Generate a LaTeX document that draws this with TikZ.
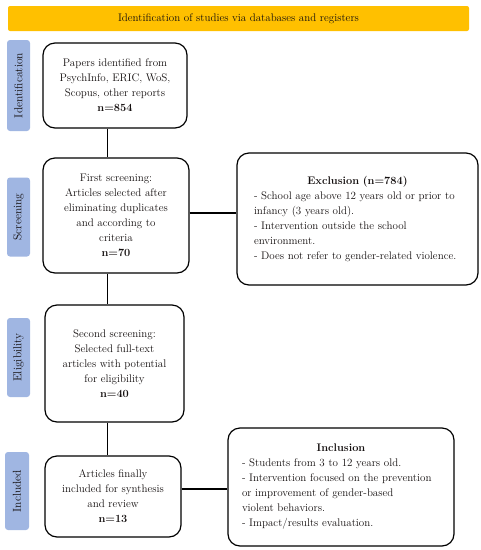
\documentclass[tikz,border=0pt]{standalone}
\usetikzlibrary{positioning}
\definecolor{bannerorange}{RGB}{255,192,0}
\definecolor{sideblue}{RGB}{160,182,226}
\definecolor{txt}{RGB}{20,15,15}
\begin{document}
\begin{tikzpicture}[x=1pt,y=-1pt,
  flowbox/.style={draw=black, line width=1.2pt, rounded corners=12pt, align=center, text=txt, inner sep=2pt, font=\fontsize{11}{15}\selectfont},
  sidebox/.style={fill=sideblue, rounded corners=3pt, text=txt, font=\fontsize{11.5}{12}\selectfont, rotate=90, inner sep=0pt},
  conn/.style={line width=1.1pt}
]
\useasboundingbox (0,0) rectangle (481,550);
% banner
\node[fill=bannerorange, rounded corners=2pt, minimum width=461pt, minimum height=25pt, inner sep=0pt, text=txt, font=\fontsize{11}{12}\selectfont] (banner) at (238.5,18.5) {Identification of studies via databases and registers};
% side labels
\node[sidebox, minimum width=91pt, minimum height=23pt] (sid) at (18.5,85.5) {Identification};
\node[sidebox, minimum width=79pt, minimum height=23pt] (sscr) at (18.5,217) {Screening};
\node[sidebox, minimum width=79pt, minimum height=23pt] (selig) at (18.5,357.5) {Eligibility};
\node[sidebox, minimum width=78pt, minimum height=24pt] (sinc) at (17,491) {Included};
% main boxes
\node[flowbox, minimum width=144pt, minimum height=85pt] (b1) at (115,85.5) {Papers identified from\\PsychInfo, ERIC, WoS,\\Scopus, other reports\\\textbf{n=854}};
\node[flowbox, minimum width=146pt, minimum height=115pt] (b2) at (116,215.5) {First screening:\\Articles selected after\\eliminating duplicates\\and according to\\criteria\\\textbf{n=70}};
\node[flowbox, minimum width=139pt, minimum height=117pt] (b3) at (114.5,363.5) {Second screening:\\Selected full-text\\articles with potential\\for eligibility\\\textbf{n=40}};
\node[flowbox, minimum width=136pt, minimum height=81pt] (b4) at (113,496.5) {Articles finally\\included for synthesis\\and review\\\textbf{n=13}};
\node[flowbox, minimum width=241pt, minimum height=132pt, text width=207pt, align=left] (excl) at (357.5,219) {\makebox[\linewidth]{\textbf{Exclusion (n=784)}}\\- School age above 12 years old or prior to\\infancy (3 years old).\\- Intervention outside the school\\environment.\\- Does not refer to gender-related violence.};
\node[flowbox, minimum width=226pt, minimum height=118pt, text width=198pt, align=left] (incl) at (341,487) {\makebox[\linewidth]{\textbf{Inclusion}}\\- Students from 3 to 12 years old.\\- Intervention focused on the prevention\\or improvement of gender-based\\violent behaviors.\\- Impact/results evaluation.};
% connectors
\coordinate (vx) at (107.5,0);
\draw[conn] (b1.south -| vx) -- (b2.north -| vx);
\draw[conn] (b2.south -| vx) -- (b3.north -| vx);
\draw[conn] (b3.south -| vx) -- (b4.north -| vx);
\coordinate (hy1) at (0,213);
\coordinate (hy2) at (0,489);
\draw[conn] (b2.east |- hy1) -- (excl.west |- hy1);
\draw[conn] (b4.east |- hy2) -- (incl.west |- hy2);
\end{tikzpicture}
\end{document}
